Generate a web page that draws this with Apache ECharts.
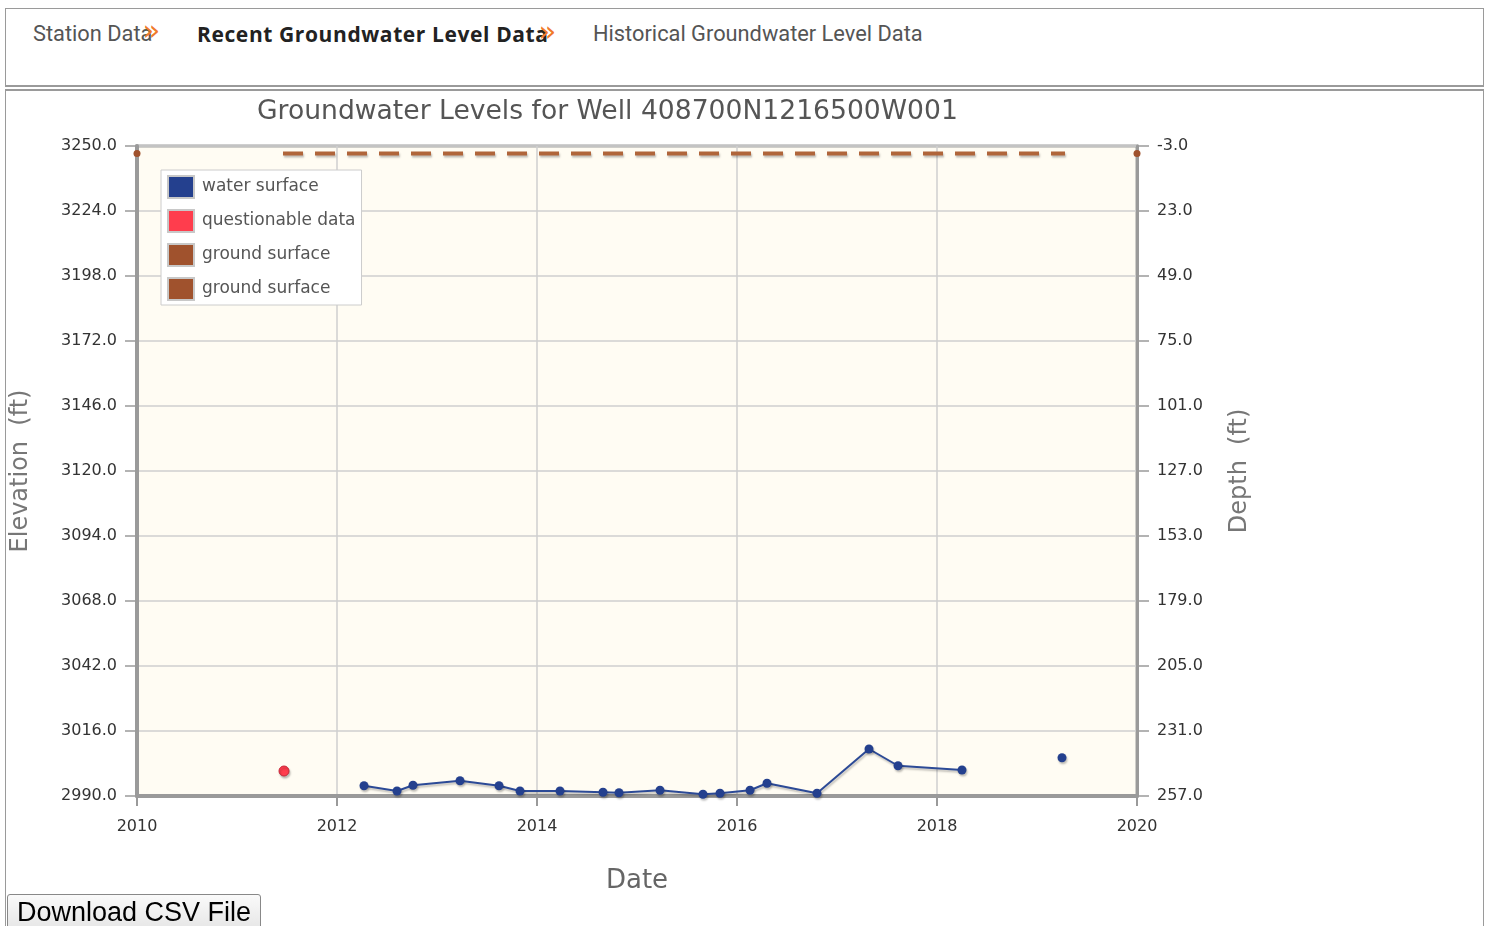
<!DOCTYPE html>
<html>
<head>
<meta charset="utf-8">
<script src="https://cdn.jsdelivr.net/npm/echarts@6/dist/echarts.min.js"></script>
<style>
  html, body { margin: 0; padding: 0; width: 1489px; height: 926px; overflow: hidden; background: #fff; }
  #nav { position: absolute; left: 5px; top: 8px; width: 1477px; height: 76px; border: 1px solid #9a9a9a; border-bottom: 2px solid #9a9a9a; }
  #content { position: absolute; left: 5px; top: 89px; width: 1477px; height: 900px; border: 1px solid #9a9a9a; border-top: 2px solid #9a9a9a; }
  .navitem { position: absolute; top: 12px; font-family: Roboto, "Liberation Sans", sans-serif; font-size: 21.8px; color: #555; white-space: nowrap; }
  .navitem.active { font-family: "Open Sans", Roboto, sans-serif; font-weight: bold; font-size: 21px; letter-spacing: 0.6px; color: #222; top: 11px; }
  .chev { color: #f07a2a; font-family: "DejaVu Sans", sans-serif; font-weight: normal; font-size: 29px; line-height: 20px; margin-left: -10px; letter-spacing: 0; position: relative; top: -1px; }
  #chart { position: absolute; left: 0; top: 0; width: 1489px; height: 926px; }
  #dl { position: absolute; left: 7px; top: 894px; width: 254px; height: 36px; font-family: "Liberation Sans", Arial, sans-serif; font-size: 27px; color: #000; background: linear-gradient(#fafafa, #e6e6e6); border: 1px solid #888; border-radius: 3px; padding: 0; text-align: center; line-height: 34px; }
</style>
</head>
<body>
<div id="nav">
  <span class="navitem" style="left:27px">Station Data<span class="chev">»</span></span>
  <span class="navitem active" style="left:191px">Recent Groundwater Level Data<span class="chev">»</span></span>
  <span class="navitem" style="left:587px">Historical Groundwater Level Data</span>
</div>
<div id="content"></div>
<div id="chart"></div>
<button id="dl">Download CSV File</button>
<script>
// ---- data (decimal years, elevation in ft) ----
var waterYears  = [2012.27, 2012.60, 2012.76, 2013.23, 2013.62, 2013.83, 2014.23, 2014.66, 2014.82, 2015.23, 2015.66, 2015.83, 2016.13, 2016.30, 2016.80, 2017.32, 2017.61, 2018.25, 2018.75, 2019.25];
var waterLevels = [2994.1, 2992.0, 2994.3, 2996.1, 2994.1, 2992.0, 2992.0, 2991.5, 2991.3, 2992.3, 2990.7, 2991.1, 2992.3, 2995.1, 2991.1, 3008.8, 3002.1, 3000.4, null, 3005.3];
var questYears  = [2011.47];
var questLevels = [3000.0];
var groundYears  = [2011.46, 2019.28];
var groundLevels = [3247.0, 3247.0];
var ground2Years  = [2010.0, 2020.0];
var ground2Levels = [3247.0, 3247.0];
var groundElevation = 3247.0; // depth = groundElevation - elevation
var xTicks = [2010, 2012, 2014, 2016, 2018, 2020];
var yMin = 2990, yMax = 3250, yStep = 26;

function pairs(xs, ys) { return xs.map(function (x, i) { return [x, ys[i]]; }); }

var FONT = '"DejaVu Sans", Verdana, sans-serif';
var shadow = { shadowColor: 'rgba(0,0,0,0.25)', shadowBlur: 2, shadowOffsetX: 1, shadowOffsetY: 2 };

var chart = echarts.init(document.getElementById('chart'), null, { renderer: 'canvas' });
chart.setOption({
  animation: false,
  textStyle: { fontFamily: FONT },
  title: {
    text: 'Groundwater Levels for Well 408700N1216500W001',
    left: 252, top: 94,
    textStyle: { fontFamily: FONT, fontSize: 26.6, fontWeight: 'normal', color: '#555' }
  },
  legend: {
    orient: 'vertical', left: 161, top: 170,
    backgroundColor: '#fff', borderColor: '#ccc', borderWidth: 1,
    padding: [5, 6, 4, 6], itemGap: 10, itemWidth: 26, itemHeight: 22,
    icon: 'rect',
    itemStyle: { borderColor: '#c8c8c8', borderWidth: 2, opacity: 1 },
    textStyle: { fontFamily: FONT, fontSize: 17, lineHeight: 20, color: '#555', padding: [0, 0, 0, 3] },
    formatter: function (n) { return n.replace(/ 2$/, ''); },
    data: ['water surface', 'questionable data', 'ground surface', 'ground surface 2']
  },
  grid: {
    left: 137, right: 352, top: 146, bottom: 130,
    show: true, backgroundColor: '#fffcf3', borderColor: '#a0a0a0', borderWidth: 3
  },
  xAxis: {
    type: 'value', min: xTicks[0], max: xTicks[xTicks.length - 1], interval: 2,
    name: 'Date', nameLocation: 'middle', nameGap: 72,
    nameTextStyle: { fontFamily: FONT, fontSize: 26, color: '#666' },
    axisLine: { lineStyle: { color: '#9a9a9a', width: 4 } },
    axisTick: { show: true, length: 10, lineStyle: { color: '#9a9a9a', width: 2 } },
    axisLabel: { fontFamily: FONT, fontSize: 16, color: '#333', margin: 23, formatter: function (v) { return String(v); } },
    splitLine: { show: true, lineStyle: { color: '#cfcfcf', width: 1.5 } }
  },
  yAxis: [{
    type: 'value', min: yMin, max: yMax, interval: yStep, position: 'left',
    name: 'Elevation  (ft)', nameLocation: 'middle', nameGap: 104, nameRotate: 90,
    nameTextStyle: { fontFamily: FONT, fontSize: 24, color: '#777' },
    axisLine: { show: true, lineStyle: { color: '#9a9a9a', width: 4 } },
    axisTick: { show: true, length: 12, lineStyle: { color: '#9a9a9a', width: 1.5 } },
    axisLabel: { fontFamily: FONT, fontSize: 16, color: '#333', margin: 20, formatter: function (v) { return v.toFixed(1); } },
    splitLine: { show: true, lineStyle: { color: '#cfcfcf', width: 1.5 } }
  }, {
    type: 'value', min: yMin, max: yMax, interval: yStep, position: 'right',
    name: 'Depth  (ft)', nameLocation: 'middle', nameGap: 91, nameRotate: 90,
    nameTextStyle: { fontFamily: FONT, fontSize: 24, color: '#777' },
    axisLine: { show: true, lineStyle: { color: '#9a9a9a', width: 3 } },
    axisTick: { show: true, length: 12, lineStyle: { color: '#9a9a9a', width: 1.5 } },
    axisLabel: { fontFamily: FONT, fontSize: 16, color: '#333', margin: 20, formatter: function (v) { return (groundElevation - v).toFixed(1); } },
    splitLine: { show: false }
  }],
  series: [{
    name: 'water surface', type: 'line', data: pairs(waterYears, waterLevels),
    connectNulls: false, symbol: 'circle', symbolSize: 9, showAllSymbol: true,
    color: '#24408e',
    lineStyle: Object.assign({ color: '#2c4a96', width: 2 }, shadow),
    itemStyle: Object.assign({ color: '#24408e' }, shadow),
    z: 5
  }, {
    name: 'questionable data', type: 'scatter', data: pairs(questYears, questLevels),
    symbolSize: 10, color: '#ff4545',
    itemStyle: Object.assign({ color: '#ff3d4d', borderColor: '#c8283a', borderWidth: 1, opacity: 1 }, shadow),
    z: 5
  }, {
    name: 'ground surface', type: 'line', data: pairs(groundYears, groundLevels),
    symbol: 'none', color: '#a0522d',
    lineStyle: Object.assign({ color: '#b0653a', width: 4, type: [20, 12] }, shadow),
    z: 4
  }, {
    name: 'ground surface 2', type: 'scatter', data: pairs(ground2Years, ground2Levels),
    symbolSize: 7, color: '#a0522d',
    itemStyle: { color: '#a0522d', opacity: 1 },
    z: 4
  }]
});
</script>
</body>
</html>
